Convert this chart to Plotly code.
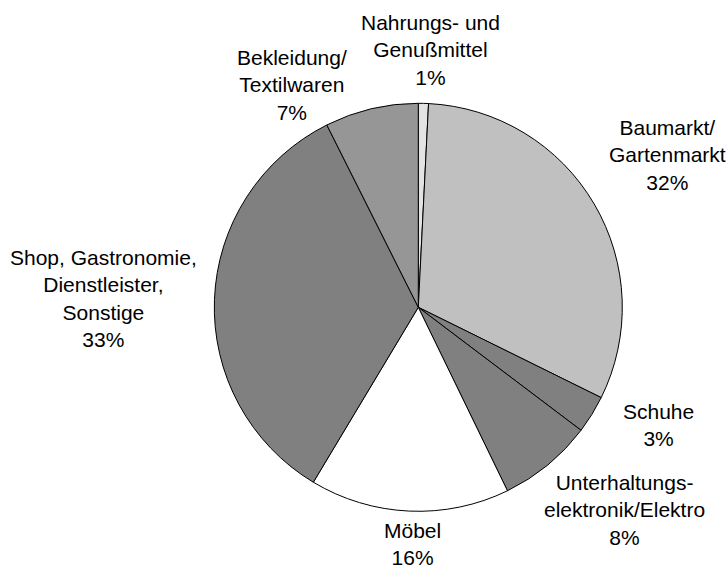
import plotly.graph_objects as go

# Data
categories = [
    "Nahrungs- und<br>Genußmittel",
    "Baumarkt/<br>Gartenmarkt",
    "Schuhe",
    "Unterhaltungs-<br>elektronik/Elektro",
    "Möbel",
    "Shop, Gastronomie,<br>Dienstleister,<br>Sonstige",
    "Bekleidung/<br>Textilwaren",
]
shares = [0.8, 31.5, 3.0, 7.5, 15.8, 34.0, 7.4]
percent_labels = ["1%", "32%", "3%", "8%", "16%", "33%", "7%"]

# Styles / layout
colors = ["#e3e3e3", "#c0c0c0", "#808080", "#808080", "#ffffff", "#808080", "#969696"]
W, H = 728, 571
cx, cy, r = 418.3, 307.3, 204
label_pos = [  # pixel centres of the label blocks
    (430, 50), (667, 155), (658, 424.5), (624, 510),
    (412.5, 544), (103, 298.5), (291.7, 85),
]

fig = go.Figure(go.Pie(
    values=shares,
    labels=[c.replace("<br>", " ") for c in categories],
    sort=False,
    direction="clockwise",
    rotation=0,
    textinfo="none",
    hoverinfo="label+percent",
    marker=dict(colors=colors, line=dict(color="black", width=1)),
    domain=dict(x=[(cx - r) / W, (cx + r) / W], y=[1 - (cy + r) / H, 1 - (cy - r) / H]),
    showlegend=False,
))

for cat, pct, (px, py) in zip(categories, percent_labels, label_pos):
    fig.add_annotation(
        x=px / W, y=1 - py / H, xref="paper", yref="paper",
        text=f"{cat}<br>{pct}", showarrow=False,
        xanchor="center", yanchor="middle", align="center",
        font=dict(family="Liberation Sans, Arial, sans-serif", size=21, color="black"),
    )

fig.update_layout(
    width=W, height=H,
    margin=dict(l=0, r=0, t=0, b=0),
    paper_bgcolor="white", plot_bgcolor="white",
)

fig.write_html("out.html")
